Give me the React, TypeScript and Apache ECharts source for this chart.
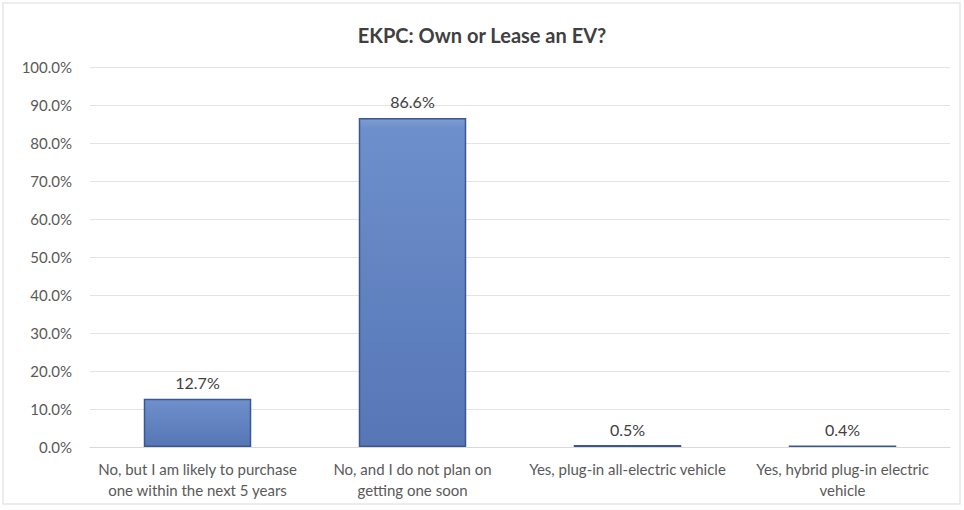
import React, { useEffect, useRef } from "react";
import * as echarts from "echarts";

const categories = [
  "No, but I am likely to purchase\none within the next 5 years",
  "No, and I do not plan on\ngetting one soon",
  "Yes, plug-in all-electric vehicle",
  "Yes, hybrid plug-in electric\nvehicle",
];
const values = [12.7, 86.6, 0.5, 0.4];
const title = "EKPC: Own or Lease an EV?";

export default function App() {
  const ref = useRef<HTMLDivElement>(null);
  useEffect(() => {
    const chart = echarts.init(ref.current!, null, { renderer: "svg" });
    const font = "Lato, 'Open Sans', sans-serif";
    chart.setOption({
      animation: false,
      backgroundColor: "#ffffff",
      textStyle: { fontFamily: font },
      title: {
        text: title,
        left: "center",
        top: 20,
        textStyle: { fontSize: 20, fontWeight: "bold", color: "#404040", fontFamily: font },
      },
      graphic: [
        {
          type: "rect",
          shape: { x: 3, y: 3, width: 957, height: 501 },
          style: { fill: "none", stroke: "#e6e6e6", lineWidth: 1.5 },
          silent: true,
        },
      ],
      grid: { left: 90, right: 14, top: 67, bottom: 63 },
      xAxis: {
        type: "category",
        data: categories,
        axisLine: { show: true, lineStyle: { color: "#d9d9d9" } },
        axisTick: { show: false },
        axisLabel: { color: "#595959", fontSize: 15, lineHeight: 21, margin: 11, interval: 0, fontFamily: font },
      },
      yAxis: {
        type: "value",
        min: 0,
        max: 100,
        interval: 10,
        axisLine: { show: false },
        axisTick: { show: false },
        splitLine: { lineStyle: { color: "#e3e3e3", width: 1 } },
        axisLabel: {
          color: "#595959",
          fontSize: 15,
          margin: 18,
          fontFamily: font,
          formatter: (v: number) => v.toFixed(1) + "%",
        },
      },
      series: [
        {
          type: "bar",
          data: values,
          barWidth: "50%",
          itemStyle: {
            color: new echarts.graphic.LinearGradient(0, 0, 0, 1, [
              { offset: 0, color: "#7e9dd4" },
              { offset: 0.03, color: "#6d8fcb" },
              { offset: 1, color: "#5676b5" },
            ]),
            borderColor: "#3a5790",
            borderWidth: 1.5,
          },
          label: {
            show: true,
            position: "top",
            distance: 8,
            color: "#404040",
            fontSize: 16,
            fontFamily: font,
            formatter: (p: any) => p.value.toFixed(1) + "%",
          },
        },
      ],
    });
    return () => chart.dispose();
  }, []);
  return <div ref={ref} style={{ width: 964, height: 510, position: "absolute", left: 0, top: 0 }} />;
}
